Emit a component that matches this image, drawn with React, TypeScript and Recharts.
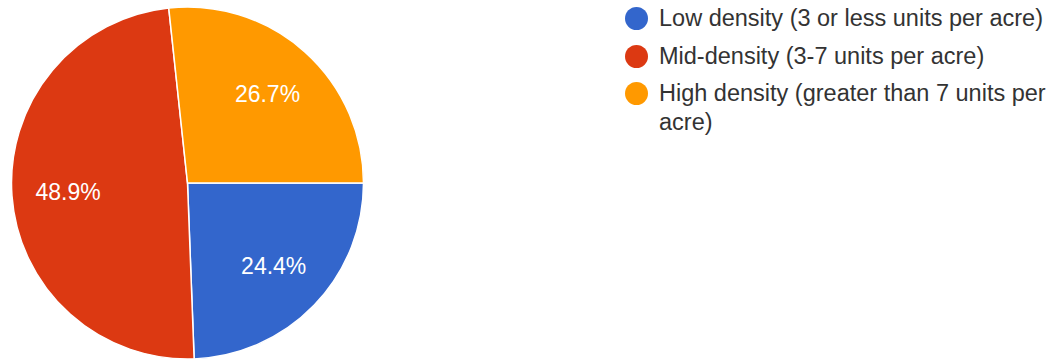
import React from 'react';
import { PieChart, Pie, Cell, Legend } from 'recharts';

const categories = [
  'Low density (3 or less units per acre)',
  'Mid-density (3-7 units per acre)',
  'High density (greater than 7 units per acre)',
];
const shares = [24.4, 48.9, 26.7];
const colors = ['#3366CC', '#DC3912', '#FF9900'];

const data = categories.map((name, i) => ({ name, value: shares[i] }));

const RADIAN = Math.PI / 180;
const FONT = '"Liberation Sans", Arial, sans-serif';

const renderLabel = (props: any) => {
  const { cx, cy, midAngle, outerRadius, value } = props;
  const r = outerRadius * 0.68;
  const x = cx + r * Math.cos(-midAngle * RADIAN);
  const y = cy + r * Math.sin(-midAngle * RADIAN);
  return (
    <text
      x={x}
      y={y}
      fill="#ffffff"
      textAnchor="middle"
      dominantBaseline="central"
      fontFamily={FONT}
      fontSize={23}
    >
      {`${value.toFixed(1)}%`}
    </text>
  );
};

const renderLegend = () => (
  <div style={{ fontFamily: FONT, fontSize: 23.5, color: '#333333' }}>
    {categories.map((name, i) => (
      <div key={name} style={{ display: 'flex', alignItems: 'flex-start', marginBottom: 8.5 }}>
        <span
          style={{
            flex: '0 0 auto',
            width: 23,
            height: 23,
            borderRadius: '50%',
            background: colors[i],
            marginTop: 3,
            marginRight: 11,
          }}
        />
        <span style={{ lineHeight: '29px', width: 395 }}>{name}</span>
      </div>
    ))}
  </div>
);

export default function App() {
  return (
    <div style={{ position: 'fixed', left: 0, top: 0, width: 1059, height: 362, background: '#ffffff' }}>
      <PieChart width={1059} height={362} margin={{ top: 0, right: 0, bottom: 0, left: 0 }}>
        <Pie
          data={data}
          dataKey="value"
          nameKey="name"
          cx={187.5}
          cy={183}
          outerRadius={176}
          startAngle={0}
          endAngle={-360}
          stroke="#ffffff"
          strokeWidth={1.5}
          label={renderLabel}
          labelLine={false}
          isAnimationActive={false}
        >
          {data.map((d, i) => (
            <Cell key={d.name} fill={colors[i]} />
          ))}
        </Pie>
        <Legend
          layout="vertical"
          align="right"
          verticalAlign="top"
          content={renderLegend}
          wrapperStyle={{ position: 'absolute', left: 625, top: 4, width: 430 }}
        />
      </PieChart>
    </div>
  );
}
